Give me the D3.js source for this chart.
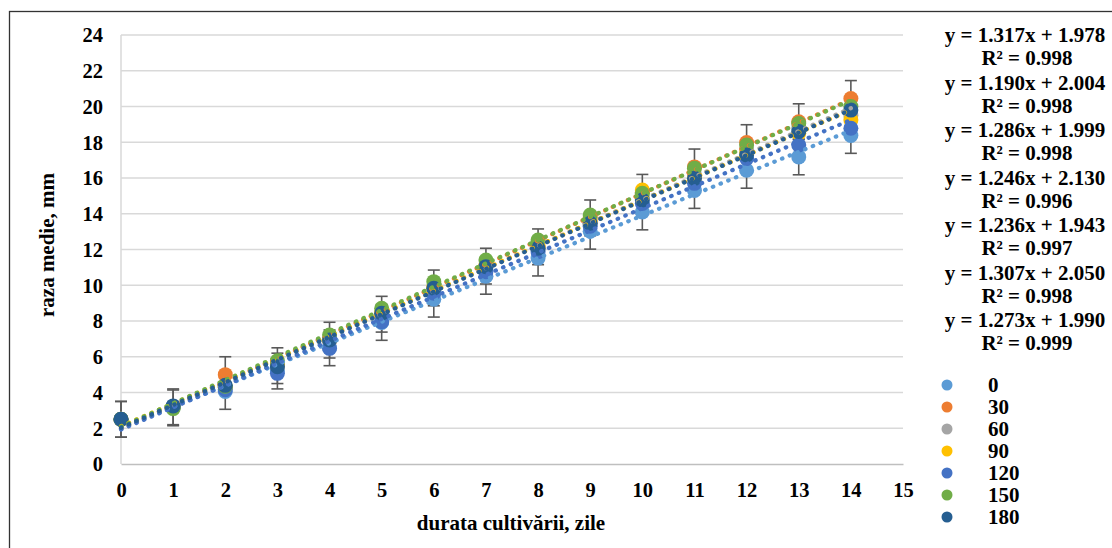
<!DOCTYPE html>
<html>
<head>
<meta charset="utf-8">
<script src="https://cdn.jsdelivr.net/npm/d3@7"></script>
<style>
	body{margin:0;background:#fff;}
	svg text{font-family:"Liberation Serif","Times New Roman",serif;font-weight:bold;fill:#000;}
</style>
</head>
<body>
<svg id="chart" width="1112" height="548"></svg>
<script>
// zile de cultivare
var days = [0,1,2,3,4,5,6,7,8,9,10,11,12,13,14];

var seriesNames = ["0","30","60","90","120","150","180"];
var seriesColors = ["#5B9BD5","#ED7D31","#A5A5A5","#FFC000","#4472C4","#70AD47","#255E91"];

// raza medie, mm
var s0   = [2.5,3.14,4.06,5.2,6.5,7.92,9.22,10.5,11.52,13.02,14.1,15.3,16.43,17.18,18.38];
var s30  = [2.5,3.2,5.0,5.5,6.93,8.38,9.85,11.07,12.15,13.77,15.2,16.62,17.98,19.15,20.45];
var s60  = [2.5,3.2,4.3,5.5,6.9,8.4,9.8,11.0,12.1,13.5,14.9,16.2,17.6,18.8,19.5];
var s90  = [2.5,3.2,4.3,5.6,7.0,8.5,9.9,11.1,12.2,13.6,15.33,16.0,17.4,18.5,19.25];
var s120 = [2.5,3.2,4.15,5.07,6.47,7.96,9.55,10.76,11.88,13.3,14.58,15.7,17.1,17.85,18.78];
var s150 = [2.5,3.1,4.35,5.78,7.22,8.71,10.2,11.41,12.53,13.93,15.14,16.55,17.85,19.05,20.0];
var s180 = [2.5,3.25,4.4,5.44,6.94,8.43,9.83,11.04,12.07,13.47,14.77,15.98,17.29,18.6,19.8];
var seriesValues = [s0,s30,s60,s90,s120,s150,s180];

// abaterea (bare de eroare) doar pe primele doua serii
var errorValue = 1;
var errorSeries = [0,1];

var equations = [
	["y = 1.317x + 1.978","R\u00b2 = 0.998"],
	["y = 1.190x + 2.004","R\u00b2 = 0.998"],
	["y = 1.286x + 1.999","R\u00b2 = 0.998"],
	["y = 1.246x + 2.130","R\u00b2 = 0.996"],
	["y = 1.236x + 1.943","R\u00b2 = 0.997"],
	["y = 1.307x + 2.050","R\u00b2 = 0.998"],
	["y = 1.273x + 1.990","R\u00b2 = 0.999"]
];

var xTicks = d3.range(0,16);
var yTicks = d3.range(0,26,2);

function linearFit(xs, ys){
	var n = xs.length, sx=0, sy=0, sxy=0, sxx=0;
	for(var i=0;i<n;i++){
		sx+=xs[i]; sy+=ys[i]; sxy+=xs[i]*ys[i]; sxx+=xs[i]*xs[i];
	}
	var slope = (n*sxy-sx*sy)/(n*sxx-sx*sx);
	var intercept = (sy-slope*sx)/n;
	return {slope:slope, intercept:intercept};
}

function draw(){
	var svg = d3.select("#chart");
	var x = d3.scaleLinear().domain([0,15]).range([121,903]);
	var y = d3.scaleLinear().domain([0,24]).range([464,35]);

	// chenar exterior
	svg.append("rect")
		.attr("x",9.5).attr("y",11.5)
		.attr("width",1120).attr("height",560)
		.attr("fill","none").attr("stroke","#333").attr("stroke-width",1.3);

	// grila
	svg.append("g").selectAll("line")
		.data(yTicks.filter(function(d){return d>0;}))
		.enter().append("line")
		.attr("x1",x(0)).attr("x2",x(15))
		.attr("y1",function(d){return y(d);}).attr("y2",function(d){return y(d);})
		.attr("stroke","#d9d9d9").attr("stroke-width",1.5);

	svg.append("line")
		.attr("x1",x(0)).attr("x2",x(0)).attr("y1",y(24)).attr("y2",y(0))
		.attr("stroke","#d9d9d9").attr("stroke-width",1.5);

	var xAxis = d3.axisBottom(x).tickValues(xTicks).tickSize(0).tickPadding(18).tickFormat(d3.format("d"));
	var gx = svg.append("g").attr("transform","translate(0,"+y(0)+")").call(xAxis);
	gx.select(".domain").attr("stroke","#bfbfbf").attr("stroke-width",1.5);
	gx.selectAll("text").style("font-size","20.5px").attr("fill","#000");

	var yAxis = d3.axisLeft(y).tickValues(yTicks).tickSize(0).tickPadding(18).tickFormat(d3.format("d"));
	var gy = svg.append("g").attr("transform","translate("+x(0)+",0)").call(yAxis);
	gy.select(".domain").remove();
	gy.selectAll("text").style("font-size","20.5px").attr("fill","#000").attr("dy","0.34em");

	// titluri axe
	svg.append("text")
		.attr("x",511).attr("y",530)
		.attr("text-anchor","middle").style("font-size","21px")
		.text("durata cultivării, zile");
	svg.append("text")
		.attr("transform","translate(54,245) rotate(-90)")
		.attr("text-anchor","middle").style("font-size","21px")
		.text("raza medie, mm");

	// bare de eroare
	var eg = svg.append("g");
	errorSeries.forEach(function(si){
		var vals = seriesValues[si];
		var bars = eg.append("g").selectAll("g").data(days).enter().append("g");
		bars.append("line")
			.attr("x1",function(d){return x(d);}).attr("x2",function(d){return x(d);})
			.attr("y1",function(d,i){return y(vals[i]-errorValue);})
			.attr("y2",function(d,i){return y(vals[i]+errorValue);});
		bars.append("line")
			.attr("x1",function(d){return x(d)-6;}).attr("x2",function(d){return x(d)+6;})
			.attr("y1",function(d,i){return y(vals[i]-errorValue);})
			.attr("y2",function(d,i){return y(vals[i]-errorValue);});
		bars.append("line")
			.attr("x1",function(d){return x(d)-6;}).attr("x2",function(d){return x(d)+6;})
			.attr("y1",function(d,i){return y(vals[i]+errorValue);})
			.attr("y2",function(d,i){return y(vals[i]+errorValue);});
	});
	eg.selectAll("line").attr("stroke","#595959").attr("stroke-width",1.6);

	// puncte
	for(var s=0;s<seriesValues.length;s++){
		var vals = seriesValues[s];
		svg.append("g").selectAll("circle")
			.data(days).enter().append("circle")
			.attr("cx",function(d){return x(d);})
			.attr("cy",function(d,i){return y(vals[i]);})
			.attr("r",7.5)
			.attr("fill",seriesColors[s]);
	}

	// linii de tendinta
	for(var t=0;t<seriesValues.length;t++){
		var fit = linearFit(days, seriesValues[t]);
		svg.append("line")
			.attr("x1",x(0)).attr("y1",y(fit.intercept))
			.attr("x2",x(14)).attr("y2",y(fit.intercept+fit.slope*14))
			.attr("stroke",seriesColors[t]).attr("stroke-width",4.2)
			.attr("stroke-linecap","round")
			.attr("stroke-dasharray","0.5 7.8");
	}

	// ecuatii
	var eqG = svg.append("g").selectAll("g").data(equations).enter().append("g");
	eqG.append("text")
		.attr("x",1025).attr("y",function(d,i){return 42+i*47.5;})
		.attr("text-anchor","middle").style("font-size","21px")
		.text(function(d){return d[0];});
	eqG.append("text")
		.attr("x",1027).attr("y",function(d,i){return 65+i*47.5;})
		.attr("text-anchor","middle").style("font-size","21px")
		.text(function(d){return d[1];});

	// legenda
	var leg = svg.append("g").selectAll("g").data(seriesNames).enter().append("g")
		.attr("transform",function(d,i){return "translate(947,"+(385+i*22)+")";});
	leg.append("circle").attr("r",5.5).attr("fill",function(d,i){return seriesColors[i];});
	leg.append("text").attr("x",41).attr("y",7).style("font-size","21px").text(function(d){return d;});
}
draw();
</script>
</body>
</html>
